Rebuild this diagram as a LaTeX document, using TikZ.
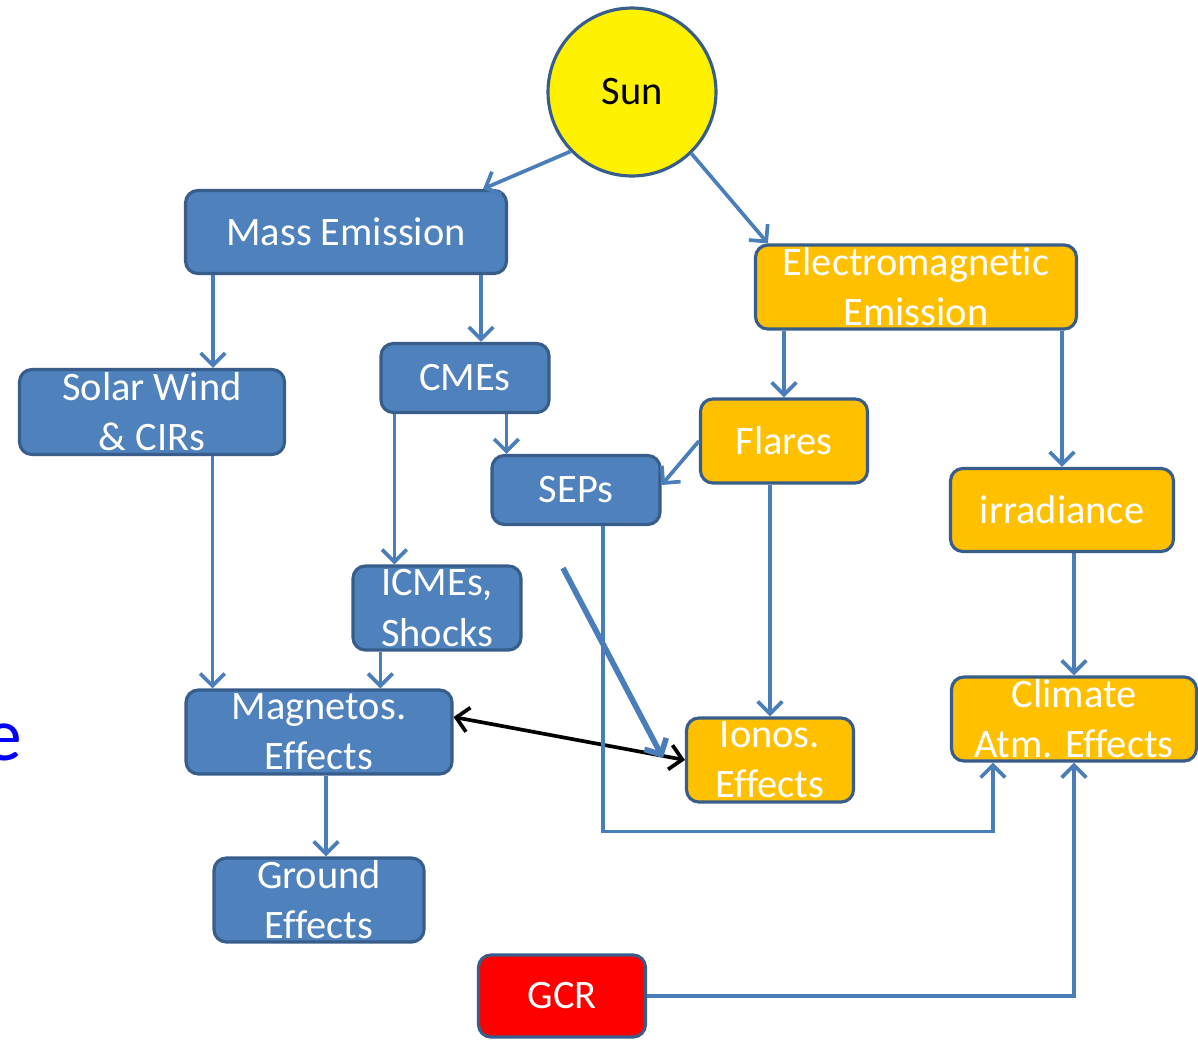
\documentclass[tikz,border=0pt]{standalone}
\usepackage{fontspec}
\setmainfont{Carlito}[Ligatures=NoCommon]
\usetikzlibrary{arrows.meta}
\definecolor{boxblue}{HTML}{4F81BD}
\definecolor{rimblue}{HTML}{385D8A}
\definecolor{linkblue}{HTML}{4A7EBB}
\definecolor{amber}{HTML}{FFC000}

\begin{document}
\begin{tikzpicture}[x=0.02cm, y=-0.02cm,
    box/.style={draw=rimblue, line width=1.8pt, rounded corners=7pt, inner sep=0pt},
    bluebox/.style={box, fill=boxblue},
    ambox/.style={box, fill=amber},
    redbox/.style={box, fill=red},
    boxtxt/.style={text=white, align=center, inner sep=0pt, font=\fontsize{23}{28.5}\selectfont},
    conn/.style={draw=linkblue, line width=2.1pt, -{Straight Barb[length=7pt,width=14pt]}},
    twoway/.style={draw=black, line width=2.1pt, {Straight Barb[length=7pt,width=14pt]}-{Straight Barb[length=7pt,width=14pt]}}
]
    \useasboundingbox (0,0) rectangle (1198,1039);

    \node[circle, draw=rimblue, line width=1.8pt, fill=yellow, minimum size=3.36cm,
          font=\fontsize{23}{28.5}\selectfont] (sun) at (632,92) {Sun};

    % blue side
    \node[bluebox, minimum width=6.42cm, minimum height=1.66cm,
          label={[boxtxt]center:Mass Emission}] (mass) at (346,232) {};
    \node[bluebox, minimum width=5.3cm, minimum height=1.7cm,
          label={[boxtxt]center:{Solar Wind\\\& CIRs}}] (wind) at (152,412) {};
    \node[bluebox, minimum width=3.36cm, minimum height=1.38cm,
          label={[boxtxt]center:CMEs}] (cme) at (465,378) {};
    \node[bluebox, minimum width=3.36cm, minimum height=1.38cm,
          label={[boxtxt]center:SEPs}] (sep) at (576,490) {};
    \node[bluebox, minimum width=3.36cm, minimum height=1.68cm,
          label={[boxtxt]center:{ICMEs,\\Shocks}}] (icme) at (437,608) {};
    \node[bluebox, minimum width=5.32cm, minimum height=1.68cm,
          label={[boxtxt]center:{Magnetos.\\Effects}}] (magneto) at (319,732) {};
    \node[bluebox, minimum width=4.2cm, minimum height=1.68cm,
          label={[boxtxt]center:{Ground\\Effects}}] (ground) at (319,900) {};

    % orange side
    \node[ambox, minimum width=6.42cm, minimum height=1.68cm,
          label={[boxtxt]center:{Electromagnetic\\Emission}}] (em) at (916,287) {};
    \node[ambox, minimum width=3.34cm, minimum height=1.68cm,
          label={[boxtxt]center:Flares}] (flares) at (784,441) {};
    \node[ambox, minimum width=4.46cm, minimum height=1.66cm,
          label={[boxtxt]center:irradiance}] (irr) at (1062,510) {};
    \node[ambox, minimum width=3.34cm, minimum height=1.68cm,
          label={[boxtxt]center:{Ionos.\\Effects}}] (ionos) at (770,760) {};
    \node[ambox, minimum width=4.9cm, minimum height=1.68cm,
          label={[boxtxt]center:{Climate\\Atm. Effects}}] (climate) at (1074,719) {};

    \node[redbox, minimum width=3.34cm, minimum height=1.64cm,
          label={[boxtxt]center:GCR}] (gcr) at (562,996) {};

    \node[text=blue, anchor=base east, inner sep=0pt,
          font=\fontsize{43}{50}\selectfont] (cut) at (22,760) {e};

    % links
    \draw[conn] (sun.224) -- ([xshift=-0.5cm]mass.north east);
    \draw[conn] (sun.-46) -- ([xshift=0.28cm]em.north west);
    \draw[conn] ([xshift=0.58cm]mass.south west) -- ([xshift=0.58cm]mass.south west |- wind.north);
    \draw[conn] ([xshift=-0.54cm]mass.south east) -- ([xshift=-0.54cm]mass.south east |- cme.north);
    \draw[conn] ([xshift=0.32cm]sep.north west |- cme.south) -- ([xshift=0.32cm]sep.north west);
    \draw[conn] ([xshift=0.3cm]cme.south west) -- ([xshift=0.3cm]cme.south west |- icme.north);
    \draw[conn] (em.south -| flares.north) -- (flares.north);
    \draw[conn] (em.south -| irr.north) -- (irr.north);
    \draw[conn] (flares.west) -- ([yshift=0.1cm]sep.east);
    \draw[conn] (flares.south -| ionos.north) -- (ionos.north);
    \draw[conn] (irr.south -| climate.north) -- (climate.north);
    \draw[conn] ([xshift=0.56cm]magneto.north west |- wind.south) -- ([xshift=0.56cm]magneto.north west);
    \draw[conn] ([xshift=0.58cm]icme.south west) -- ([xshift=0.58cm]icme.south west |- magneto.north);
    \draw[conn] ([xshift=0.14cm]magneto.south) -- ([xshift=0.14cm]magneto.south |- ground.north);
    \draw[twoway] ([yshift=0.3cm]magneto.east) -- (ionos.west);
    \draw[conn] ([xshift=0.54cm]sep.south) |- ([xshift=0.86cm,yshift=-1.38cm]climate.south west)
        -- ([xshift=0.86cm]climate.south west);
    \draw[conn] (gcr.east) -| (climate.south);

    \coordinate (tail) at (563,568);
    \draw[conn, line width=3.2pt] (tail) -- ([xshift=-0.44cm,yshift=0.04cm]ionos.west);
\end{tikzpicture}
\end{document}
